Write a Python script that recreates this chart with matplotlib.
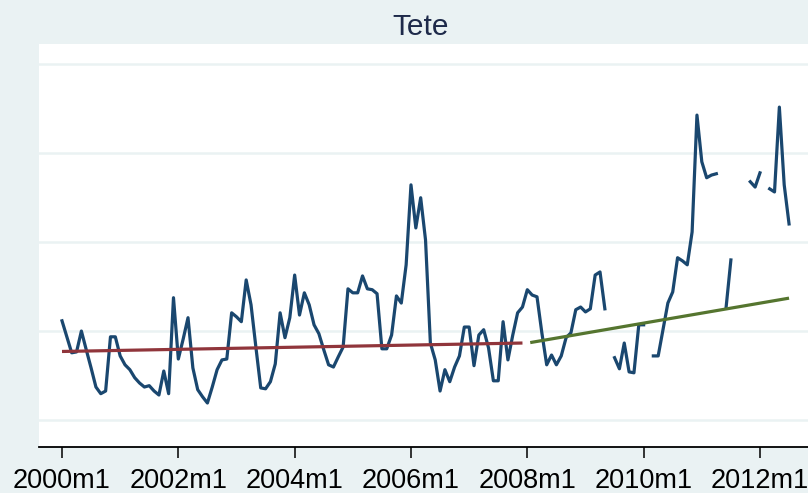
import numpy as np
import matplotlib
matplotlib.use("Agg")
import matplotlib.pyplot as plt

plt.rcParams['font.family'] = ['Liberation Sans', 'DejaVu Sans']

# monthly prices, Tete, starting 2000m1 (nan = missing month)
nan = np.nan
price = [
    4.23, 3.87, 3.51, 3.53, 4.00, 3.58, 3.17, 2.74, 2.59, 2.65,
    3.87, 3.87, 3.44, 3.24, 3.13, 2.95, 2.83, 2.74, 2.77, 2.65,
    2.56, 3.10, 2.59, 4.75, 3.37, 3.82, 4.30, 3.17, 2.68, 2.52,
    2.38, 2.74, 3.13, 3.35, 3.37, 4.41, 4.32, 4.21, 5.15, 4.59,
    3.64, 2.72, 2.70, 2.86, 3.26, 4.41, 3.85, 4.30, 5.26, 4.36,
    4.86, 4.59, 4.14, 3.94, 3.58, 3.24, 3.19, 3.42, 3.64, 4.95,
    4.86, 4.86, 5.24, 4.95, 4.93, 4.84, 3.60, 3.60, 3.91, 4.79,
    4.63, 5.49, 7.29, 6.32, 7.00, 6.05, 3.73, 3.35, 2.65, 3.13,
    2.86, 3.19, 3.44, 4.09, 4.09, 3.22, 3.91, 4.03, 3.62, 2.88,
    2.88, 4.21, 3.35, 3.91, 4.41, 4.54, 4.93, 4.81, 4.77, 3.96,
    3.24, 3.46, 3.24, 3.44, 3.85, 3.96, 4.48, 4.54, 4.43, 4.50,
    5.26, 5.33, 4.50, nan, 3.40, 3.15, 3.73, 3.08, 3.06, 4.14,
    4.14, nan, 3.44, 3.44, 4.03, 4.63, 4.88, 5.65, 5.58, 5.49,
    6.23, 8.86, 7.81, 7.45, 7.51, 7.54, nan, 4.52, 5.60, nan,
    nan, nan, 7.36, 7.24, 7.56, nan, 7.20, 7.13, 9.04, 7.29,
    6.41,
]
start_month = 480  # Stata monthly date of 2000m1
months = np.arange(start_month, start_month + len(price))

# linear trends before and after 2008
trend1_months = [480, 575]
trend1_vals = [3.54, 3.73]
trend2_months = [576.6, 630]
trend2_vals = [3.74, 4.74]

tick_months = [480, 504, 528, 552, 576, 600, 624]
tick_labels = ["2000m1", "2002m1", "2004m1", "2006m1", "2008m1", "2010m1", "2012m1"]
grid_vals = [2, 4, 6, 8, 10]

bg = "#eaf2f3"
fig = plt.figure(figsize=(8.08, 4.93), dpi=100, facecolor=bg)
ax = fig.add_axes([39.3 / 808, 46 / 493, 1 - 39.3 / 808, 403 / 493])
ax.set_facecolor("white")

px_per_month = 4.847
ax.set_xlim(start_month - 22.7 / px_per_month, start_month + 746 / px_per_month)
ax.set_ylim(1.39, 10.46)

for g in grid_vals:
    ax.axhline(g, color=bg, lw=1.8, zorder=1)

ax.plot(months, price, color="#1a476f", lw=2.3, zorder=3)
ax.plot(trend1_months, trend1_vals, color="#90353b", lw=2.3, zorder=4, solid_capstyle="butt")
ax.plot(trend2_months, trend2_vals, color="#55752f", lw=2.3, zorder=4, solid_capstyle="butt")

for s in ["top", "right", "left"]:
    ax.spines[s].set_visible(False)
ax.spines["bottom"].set_color("black")
ax.spines["bottom"].set_linewidth(1.3)

ax.set_yticks([])
ax.set_xticks(tick_months)
ax.set_xticklabels(tick_labels, fontsize=19.5, color="black")
ax.tick_params(axis="x", direction="out", length=8, width=1.1, pad=7, colors="black")

fig.text(0.52, 0.945, "Tete", ha="center", va="center", fontsize=21.5, color="#1e2a4a")

fig.savefig("out.png", dpi=100, facecolor=bg)
